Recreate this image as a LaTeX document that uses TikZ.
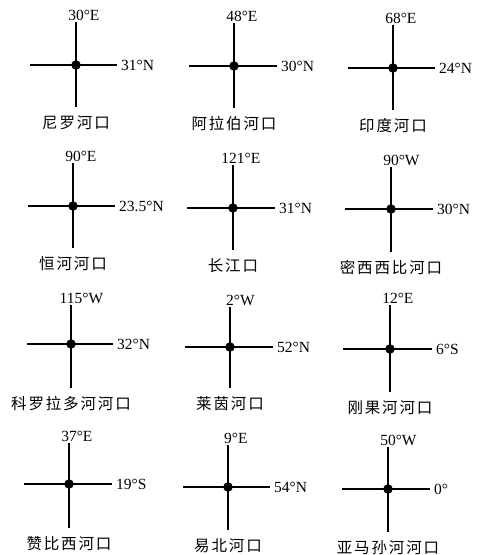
\documentclass[tikz,border=0pt]{standalone}
\usepackage{fontspec}
\setmainfont{Liberation Serif}
\newfontfamily\cjk[LetterSpace=12]{Noto Sans CJK SC}
\begin{document}
\begin{tikzpicture}[x=1pt,y=-1pt]
\tikzset{
  ax/.style={line width=1.4pt},
  dotn/.style={circle,fill,inner sep=0pt,minimum size=9.5pt},
  lonlab/.style={anchor=south,inner sep=1.5pt,font=\fontsize{15.5}{15.5}\selectfont},
  latlab/.style={anchor=west,inner sep=0pt,xshift=4pt,font=\fontsize{15.5}{15.5}\selectfont},
  namelab/.style={inner sep=0pt,font=\cjk\fontsize{15.5}{16}\selectfont}
}
\useasboundingbox (0,0) rectangle (478,555);
\foreach \i/\cx/\cy/\t/\b/\l/\r/\lo/\ls/\la/\nm in {
  1/76/65/22/107/30/117/30/°E/31°N/尼罗河口,
  2/234/66/23/108/189/277/48/°E/30°N/阿拉伯河口,
  3/393/68/25/110/348/435/68/°E/24°N/印度河口,
  4/73/206/163/248/28/115/90/°E/23.5°N/恒河河口,
  5/233/208/165/250/187/275/121/°E/31°N/长江口,
  6/391/209/167/252/345/433/90/°W/30°N/密西西比河口,
  7/71/344/305/388/27/113/115/°W/32°N/科罗拉多河河口,
  8/230/347/307/388/185/273/2/°W/52°N/莱茵河口,
  9/390/349/305/392/343/432/12/°E/6°S/刚果河河口,
  10/69/484/443/528/24/112/37/°E/19°S/赞比西河口,
  11/228/487/445/530/183/270/9/°E/54°N/易北河口,
  12/388/489/447/532/342/430/50/°W/0°/亚马孙河河口}
{
  \coordinate (t\i) at (\cx,\t);
  \coordinate (b\i) at (\cx,\b);
  \coordinate (l\i) at (\l,\cy);
  \coordinate (r\i) at (\r,\cy);
  \draw[ax] (t\i) -- (b\i);
  \draw[ax] (l\i) -- (r\i);
  \node[dotn] (c\i) at (\cx,\cy) {};
  \node[lonlab] (lo\i) at (t\i) {\lo\rlap{\ls}};
  \node[latlab] (la\i) at (r\i) {\la};
  \node[namelab] (nm\i) at ([yshift=-16pt]b\i) {\nm};
}
\end{tikzpicture}
\end{document}
